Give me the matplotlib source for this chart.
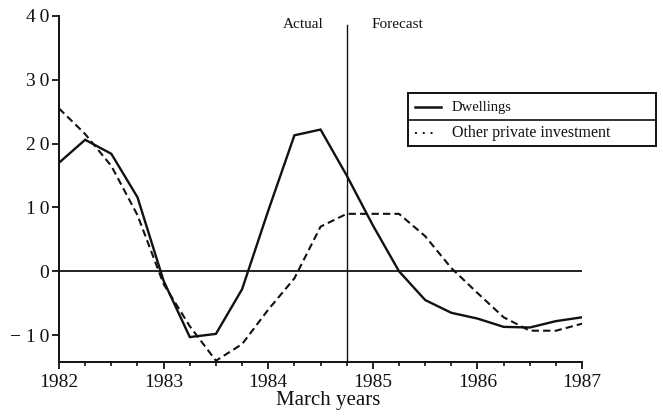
import matplotlib.pyplot as plt
from matplotlib.patches import Rectangle
from matplotlib.lines import Line2D
from matplotlib.ticker import MultipleLocator

plt.rcParams['font.family'] = ['Liberation Serif', 'DejaVu Serif']

# quarterly points, March years
quarters = [1982 + 0.25 * i for i in range(21)]
dwellings = [17.0, 20.6, 18.4, 11.6, -1.5, -10.3, -9.8, -2.8, 9.5, 21.3, 22.2,
             15.0, 7.2, 0.0, -4.5, -6.5, -7.4, -8.7, -8.8, -7.8, -7.2]
other_private = [25.5, 21.5, 16.5, 8.8, -2.0, -8.6, -14.0, -11.4, -6.0, -1.1, 7.0,
                 9.0, 9.0, 9.0, 5.5, 0.5, -3.4, -7.2, -9.3, -9.3, -8.2]
year_ticks = [1982, 1983, 1984, 1985, 1986, 1987]
y_ticks = [-10, 0, 10, 20, 30, 40]
y_labels = ['\u2212 1\u20090', '0', '1\u20090', '2\u20090', '3\u20090', '4\u20090']
split_year = 1984.75

fig = plt.figure(figsize=(6.63, 4.18), dpi=100)
ax = fig.add_axes([0.089, 0.134, 0.789, 0.828])

ink = '#111111'
ax.plot(quarters, dwellings, color=ink, lw=1.7, solid_joinstyle='miter')
ax.plot(quarters, other_private, color=ink, lw=1.5, linestyle=(0, (3.5, 2)))
ax.axhline(0, color=ink, lw=1.3)
ax.plot([split_year, split_year], [-14.2, 38.6], color=ink, lw=1.0)

ax.set_xlim(1982, 1987)
ax.set_ylim(-14.2, 40)
ax.set_xticks(year_ticks)
ax.xaxis.set_minor_locator(MultipleLocator(0.25))
ax.set_yticks(y_ticks)
ax.set_yticklabels(y_labels)
ax.tick_params(axis='both', which='major', direction='out', length=5, width=1.3,
               labelsize=14, colors=ink)
ax.tick_params(axis='x', which='minor', direction='out', length=3, width=1.2, colors=ink)
ax.tick_params(axis='x', which='major', pad=4)
ax.tick_params(axis='y', which='major', pad=2)
for side in ['top', 'right']:
    ax.spines[side].set_visible(False)
for side in ['left', 'bottom']:
    ax.spines[side].set_linewidth(1.4)
    ax.spines[side].set_color(ink)
ax.set_xlabel('March years', fontsize=15, labelpad=0, color=ink)
ax.xaxis.set_label_coords(0.514, -0.085)

ax.text(1984.33, 38.7, 'Actual', ha='center', va='center', fontsize=11, color=ink)
ax.text(1985.23, 38.7, 'Forecast', ha='center', va='center', fontsize=11, color=ink)

# table-style legend box, partly outside the axes
fx = lambda px: px / 663
fy = lambda py: 1 - py / 418
box = Rectangle((fx(408), fy(146)), fx(656) - fx(408), fy(93) - fy(146),
                transform=fig.transFigure, fill=False, lw=1.4, ec=ink)
fig.add_artist(box)
fig.add_artist(Line2D([fx(408), fx(656)], [fy(120), fy(120)], transform=fig.transFigure,
                      color=ink, lw=1.2))
fig.add_artist(Line2D([fx(415), fx(441)], [fy(107), fy(107)], transform=fig.transFigure,
                      color=ink, lw=1.8))
fig.add_artist(Line2D([fx(415), fx(434)], [fy(133), fy(133)], transform=fig.transFigure,
                      color=ink, lw=1.4, linestyle=(0, (1, 3))))
fig.text(fx(452), fy(107), 'Dwellings', ha='left', va='center', fontsize=10.5, color=ink)
fig.text(fx(452), fy(133), 'Other private investment', ha='left', va='center',
         fontsize=11.5, color=ink)

fig.savefig('out.png', dpi=100)
